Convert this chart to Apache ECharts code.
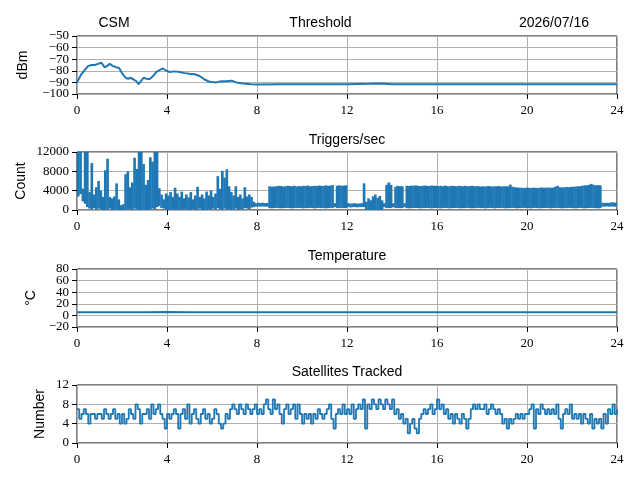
<!DOCTYPE html>
<html>
<head>
<meta charset="utf-8">
<script src="https://cdn.jsdelivr.net/npm/echarts@6/dist/echarts.min.js"></script>
<style>
  html, body { margin: 0; padding: 0; background: #fff; }
  #main { width: 640px; height: 480px; }
</style>
</head>
<body>
<div id="main"></div>
<script>
// x axis ticks (hours of the day)
var hourTicks = [0, 4, 8, 12, 16, 20, 24];

// threshold (dBm)
var thrHours = [0, 0.19, 0.34, 0.49, 0.64, 0.79, 0.93, 1.08, 1.23, 1.33, 1.45, 1.6, 1.75, 1.87,
    2.0, 2.16, 2.27, 2.37, 2.52, 2.64, 2.74, 2.86, 2.96, 3.1, 3.23, 3.38, 3.53, 3.67, 3.82, 3.97,
    4.12, 4.34, 4.56, 4.79, 5.0, 5.23, 5.45, 5.67, 5.9, 6.19, 6.41, 6.64, 6.86, 7.08, 7.38, 7.75,
    8, 9, 10, 11, 12, 13, 13.5, 14, 15, 16, 17, 18, 19, 20, 21, 22, 23, 24];
var thrDbm = [-90, -83, -79.5, -76, -75, -75, -74, -73, -77, -76, -74, -76, -77, -77.5,
    -82, -86, -87, -86, -87.5, -89, -91.5, -88.5, -86, -87, -87, -84.5, -81, -79.5, -78, -80,
    -81, -80.5, -81, -82, -82.5, -83, -84.5, -87.5, -89.5, -90, -89, -89, -88.5, -90, -91, -91.5,
    -91.8, -91.6, -91.7, -91.6, -91.5, -91.2, -91.0, -91.5, -91.6, -91.7, -91.6, -91.7, -91.6, -91.7, -91.6, -91.7, -91.6, -91.6];

// triggers/sec: low and high envelope per 0.1 h bin (240 bins)
var trigStep = 0.1;
var trigLo = [
    3000, 3500, 2000, 1500, 800, 500, 400, 600, 300, 500,
    400, 200, 0, 300, 500, 200, 0, 300, 0, 0,
    0, 200, 400, 300, 0, 500, 300, 200, 0, 400,
    0, 0, 300, 500, 400, 800, 1000, 600, 500, 300,
    0, 200, 400, 100, 300, 0, 200, 400, 300, 0,
    200, 400, 100, 300, 500, 200, 0, 300, 400, 200,
    500, 300, 600, 400, 200, 500, 300, 400, 200, 300,
    500, 200, 400, 300, 600, 500, 400, 700, 800, 900,
    900, 900, 950, 900, 900,
    600, 550, 600, 650, 600, 550, 600, 600, 650, 600, 550, 600, 600, 650, 600,
    550, 600, 600, 650, 600, 550, 600, 650, 600, 600, 550, 600, 650, 600,
    800,
    600, 600, 650, 600, 600,
    800, 750, 800, 800, 750, 800, 800,
    800,
    0, 0, 0, 0, 0, 0, 0, 100,
    800,
    600, 600, 600,
    800,
    600, 600, 600, 600,
    800,
    600, 550, 600, 600, 650, 600, 550, 600, 600, 650, 600, 550, 600, 600,
    600, 550, 600, 650, 600, 550, 600, 600, 650, 600,
    550, 600, 600, 650, 600, 550, 600, 600, 650, 600,
    600, 550, 600, 650, 600, 550, 600, 600, 650, 600,
    550, 600, 600, 650, 600, 550, 600, 600, 650, 600,
    600, 550, 600, 650, 600, 550, 600, 600, 650, 600,
    550, 600, 600, 650, 600, 550, 600, 600, 650, 600,
    600, 550, 600, 650, 600, 550, 600, 600, 650, 600,
    600, 550, 600,
    900, 900, 950, 900, 950, 900, 900
];
var trigHi = [
    13500, 13000, 4200, 13000, 12500, 3500, 9500, 3000, 4500, 5800,
    3800, 2500, 8000, 10400, 2500, 2200, 2600, 5300, 2000, 800,
    1000, 7200, 7800, 4500, 5500, 10600, 8300, 13000, 12500, 9300,
    5000, 6000, 10700, 9800, 13000, 13000, 4300, 3000, 2000, 3200,
    2800, 3500, 2500, 4400, 3200, 2500, 3600, 2200, 3000, 2400,
    3500, 2000, 2800, 4600, 2500, 3000, 2200, 3600, 2800, 3800,
    2500, 3200, 6800, 4200, 7900, 6500, 8200, 4700, 3500, 2800,
    4700, 2500, 3000, 2200, 4500, 2600, 3000, 2500, 1500, 1200,
    1300, 1250, 1300, 1200, 1250,
    4700, 4600, 4650, 4700, 4800, 4750, 4650, 4700, 4800, 4750, 4700, 4800, 4650, 4750, 4700,
    4800, 4750, 4850, 4700, 4750, 4800, 4750, 4850, 4800, 4750, 4900, 4800, 4850, 4950,
    1200,
    4800, 4900, 4800, 4850, 4900,
    1200, 1100, 1150, 1200, 1100, 1150, 1200,
    5300,
    1500, 2200, 1800, 2600, 3000, 2300, 2700, 1800,
    1200,
    5000, 5500, 5000,
    1200,
    4600, 4800, 4700, 4700,
    1200,
    4800, 4750, 4850, 4800, 4900, 4800, 4750, 4800, 4850, 4800, 4750, 4850, 4800, 4800,
    4750, 4800, 4700, 4850, 4750, 4700, 4800, 4750, 4700, 4800,
    4750, 4700, 4800, 4700, 4750, 4800, 4700, 4750, 4700, 4650,
    4700, 4650, 4750, 4700, 4650, 4700, 4700, 4750, 4650, 4700,
    4700, 4700, 5050, 4600, 4500, 4450, 4400, 4400, 4350, 4400,
    4400, 4350, 4400, 4400, 4350, 4400, 4450, 4400, 4400, 4450,
    4400, 4450, 4600, 4800, 4500, 4450, 4500, 4550, 4500, 4600,
    4600, 4650, 4700, 4700, 4800, 4900, 4900, 5000, 5200, 5000,
    4900, 4950, 4900,
    1300, 1250, 1300, 1250, 1400, 1350, 1300
];

// temperature (deg C), hourly
var tempHours = [0, 1, 2, 3, 4, 5, 6, 7, 8, 9, 10, 11, 12, 13, 14, 15, 16, 17, 18, 19, 20, 21, 22, 23, 24];
var tempC = [5.5, 5.6, 5.4, 5.5, 5.7, 5.5, 5.4, 5.6, 5.5, 5.5, 5.6, 5.4, 5.5, 5.6, 5.5, 5.4, 5.5, 5.6, 5.5, 5.5, 5.4, 5.6, 5.5, 5.5, 5.5];

// satellites tracked, one sample per 0.1 h
var satStep = 0.1;
var satCount = [
    7, 5, 6, 7, 6, 4, 6, 6, 5, 6,
    6, 5, 7, 6, 5, 6, 7, 5, 6, 4,
    6, 4, 5, 7, 6, 5, 8, 7, 4, 6,
    6, 7, 5, 8, 6, 7, 8, 6, 5, 3,
    6, 5, 6, 7, 6, 3, 6, 7, 5, 8,
    4, 6, 7, 5, 4, 6, 7, 5, 6, 4,
    5, 7, 6, 4, 3, 4, 6, 5, 7, 8,
    7, 6, 8, 7, 6, 8, 7, 6, 7, 8,
    6, 7, 6, 8, 9, 7, 6, 9, 7, 8,
    6, 4, 7, 8, 6, 7, 8, 5, 8, 6,
    4, 6, 5, 6, 4, 6, 5, 7, 6, 5,
    6, 7, 8, 5, 3, 6, 7, 6, 8, 6,
    7, 6, 8, 5, 7, 8, 7, 9, 3, 8,
    7, 9, 8, 7, 9, 8, 7, 9, 8, 7,
    9, 6, 7, 5, 6, 4, 5, 2, 4, 5,
    3, 2, 5, 6, 7, 6, 7, 8, 6, 7,
    9, 7, 8, 6, 7, 5, 6, 4, 6, 5,
    4, 6, 5, 3, 5, 7, 8, 7, 8, 7,
    7, 8, 6, 7, 8, 7, 6, 7, 6, 4,
    5, 3, 5, 4, 5, 6, 5, 6, 5, 6,
    6, 7, 8, 3, 7, 6, 8, 7, 6, 7,
    6, 7, 6, 8, 5, 3, 6, 7, 6, 8,
    5, 6, 5, 6, 4, 6, 5, 4, 6, 3,
    5, 4, 5, 3, 6, 4, 7, 6, 8, 6,
    7
];

var lineColor = '#1f77b4';
var gridColor = '#b0b0b0';
var tickFont = 'Liberation Serif';
var textFont = 'Liberation Sans';
var panelTops = [36, 152, 269, 385];

function minusText(v) {
    return String(v).replace('-', '\u2212');
}
// y labels are tightly packed, so each grid gets two y axes:
// one labels the even ticks, the other the odd ones, and nothing gets dropped
function evenFmt(v, idx) {
    return idx % 2 === 0 ? minusText(v) : '';
}
function oddFmt(v, idx) {
    return idx % 2 === 1 ? minusText(v) : '';
}

function pairs(xs, ys) {
    var out = [];
    for (var i = 0; i < ys.length; i++) out.push([xs[i], ys[i]]);
    return out;
}

var thrData = pairs(thrHours, thrDbm);
var tempData = pairs(tempHours, tempC);
var satData = [];
for (var i = 0; i < satCount.length; i++) satData.push([i * satStep, satCount[i]]);
var trigData = [];
for (var j = 0; j < trigHi.length; j++) trigData.push([j * trigStep, trigLo[j], trigHi[j]]);

function renderTrig(params, api) {
    var t = api.value(0);
    var p0 = api.coord([t, api.value(2)]);
    var p1 = api.coord([t + trigStep, api.value(1)]);
    var rect = echarts.graphic.clipRectByRect({
        x: p0[0],
        y: p0[1] - 1,
        width: p1[0] - p0[0] + 0.4,
        height: p1[1] - p0[1] + 2
    }, {
        x: params.coordSys.x,
        y: params.coordSys.y,
        width: params.coordSys.width,
        height: params.coordSys.height
    });
    if (!rect) return;
    return {type: 'rect', shape: rect, style: {fill: lineColor}};
}

var grids = [], xAxes = [], yAxes = [], yAxesOdd = [];
var yRanges = [[-100, -50, 10], [0, 12000, 4000], [-20, 80, 20], [0, 12, 4]];
for (var k = 0; k < 4; k++) {
    grids.push({left: 77, top: panelTops[k], width: 540, height: 58,
        show: true, borderColor: '#000', borderWidth: 1, backgroundColor: 'transparent'});
    xAxes.push({
        type: 'value', gridIndex: k, min: 0, max: 24, interval: 4,
        axisLine: {show: false, onZero: false},
        axisTick: {show: true, length: 5, lineStyle: {color: '#000', width: 1}},
        axisLabel: {margin: 10, color: '#000', fontFamily: tickFont, fontSize: 13},
        splitLine: {show: true, lineStyle: {color: gridColor, width: 1}}
    });
    [evenFmt, oddFmt].forEach(function (fmt, n) {
        (n === 0 ? yAxes : yAxesOdd).push({
            type: 'value', gridIndex: k, position: 'left', offset: 0,
            min: yRanges[k][0], max: yRanges[k][1], interval: yRanges[k][2],
            axisLine: {show: false, onZero: false},
            axisTick: {show: true, length: 5, lineStyle: {color: '#000', width: 1}},
            axisLabel: {margin: 8, color: '#000', fontFamily: tickFont, fontSize: 13,
                formatter: fmt, showMinLabel: true, showMaxLabel: true, hideOverlap: false},
            splitLine: {show: n === 0, lineStyle: {color: gridColor, width: 1}}
        });
    });
}

function txt(x, y, s, rot) {
    return {
        type: 'text', x: x, y: y, rotation: rot || 0, silent: true,
        style: {text: s, fill: '#000', font: '14px ' + textFont, textAlign: 'center', textVerticalAlign: 'middle'}
    };
}

var option = {
    animation: false,
    backgroundColor: '#fff',
    grid: grids,
    xAxis: xAxes,
    yAxis: yAxes.concat(yAxesOdd),
    graphic: [
        txt(114, 23, 'CSM'),
        txt(320.5, 23, 'Threshold'),
        txt(554, 23, '2026/07/16'),
        txt(347, 140, 'Triggers/sec'),
        txt(347, 256, 'Temperature'),
        txt(347, 372, 'Satellites Tracked'),
        txt(23, 65, 'dBm', Math.PI / 2),
        txt(21, 181, 'Count', Math.PI / 2),
        txt(31, 298, '\u00b0C', Math.PI / 2),
        txt(40, 414, 'Number', Math.PI / 2)
    ],
    series: [
        {type: 'line', xAxisIndex: 0, yAxisIndex: 0, data: thrData, showSymbol: false,
            lineStyle: {color: lineColor, width: 2}},
        {type: 'custom', xAxisIndex: 1, yAxisIndex: 1, data: trigData, renderItem: renderTrig,
            encode: {x: 0, y: [1, 2]}},
        {type: 'line', xAxisIndex: 2, yAxisIndex: 2, data: tempData, showSymbol: false,
            lineStyle: {color: lineColor, width: 2}},
        {type: 'line', xAxisIndex: 3, yAxisIndex: 3, data: satData, showSymbol: false, step: 'end',
            lineStyle: {color: lineColor, width: 1.8}}
    ]
};

var chart = echarts.init(document.getElementById('main'));
chart.setOption(option);
window.addEventListener('resize', function () {
    chart.resize();
});
</script>
</body>
</html>
